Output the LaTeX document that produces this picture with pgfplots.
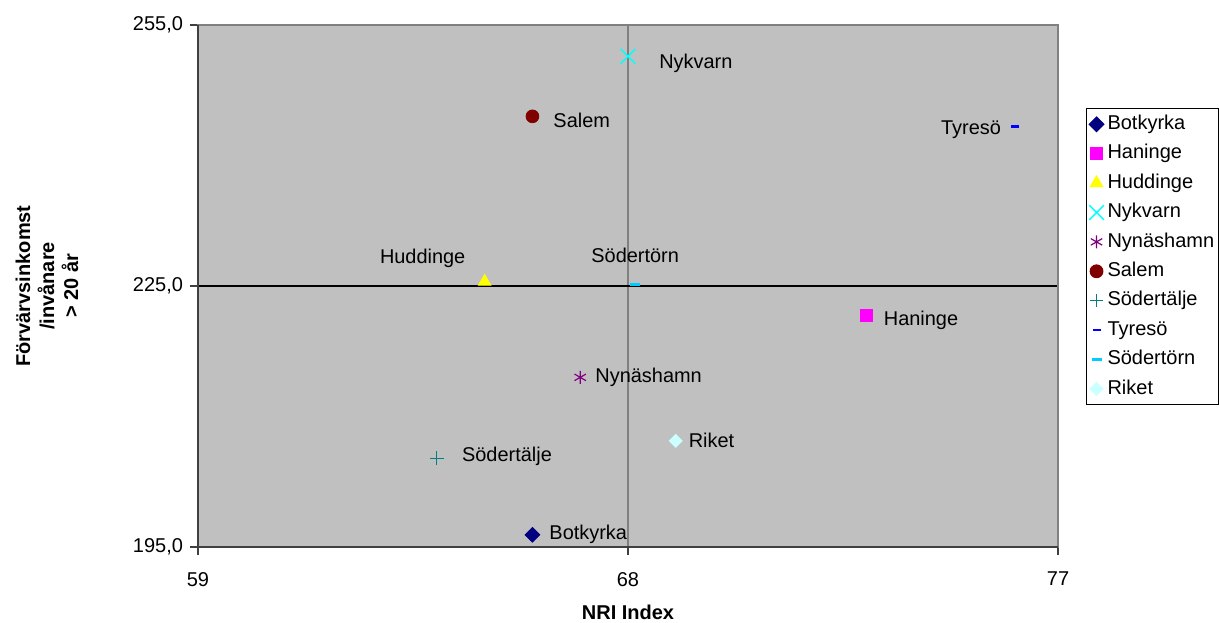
\documentclass[border=0pt]{standalone}
\usepackage{pgfplots}
\pgfplotsset{compat=1.18}
\usepackage{fontspec}
\setmainfont{Liberation Sans}

\definecolor{plotbg}{HTML}{C0C0C0}
\definecolor{darkline}{HTML}{404040}
\definecolor{midline}{HTML}{808080}
\definecolor{cNavy}{HTML}{000080}
\definecolor{cMag}{HTML}{FF00FF}
\definecolor{cYel}{HTML}{FFFF00}
\definecolor{cCyan}{HTML}{00FFFF}
\definecolor{cPurp}{HTML}{800080}
\definecolor{cMaroon}{HTML}{800000}
\definecolor{cTeal}{HTML}{008080}
\definecolor{cBlue}{HTML}{0000FF}
\definecolor{cSky}{HTML}{00CCFF}
\definecolor{cPale}{HTML}{CCFFFF}

\newcommand{\fs}{\fontsize{10bp}{12bp}\selectfont}

\begin{document}
\begin{tikzpicture}
\useasboundingbox (-99bp,-38bp) rectangle (510.5bp,273.5bp);
\begin{axis}[
    scale only axis,
    width=430bp, height=261bp,
    xmin=59, xmax=77, ymin=195, ymax=255,
    xtick={59,68,77}, ytick={195,225,255},
    xtick pos=bottom, ytick pos=left,
    tick align=outside, major tick length=4bp,
    tick style={darkline, line width=0.6bp},
    axis background/.style={fill=plotbg},
    axis line style={midline, line width=0.6bp},
    grid=major,
    x grid style={midline, line width=0.8bp},
    y grid style={black, line width=0.6bp},
    /pgf/number format/assume math mode=true,
    yticklabel style={/pgf/number format/.cd, fixed, fixed zerofill, precision=1, use comma},
    xticklabel style={yshift=-5bp, /pgf/number format/.cd, fixed, precision=0},
    ticklabel style={font=\fs},
    xlabel={\textbf{NRI Index}},
    ylabel={\textbf{Förvärvsinkomst}\\\textbf{/invånare}\\\textbf{> 20 år}},
    xlabel style={font=\fs, at={(axis description cs:0.5,-0.126)}, anchor=center},
    ylabel style={font=\fs, align=center, at={(axis description cs:-0.1756,0.5)}, anchor=center},
    clip=false,
    legend cell align=left,
    legend image code/.code={%
        \path[draw=none, fill=none, mark=none] (0bp,-2bp) rectangle (8.5bp,2bp);
        \draw[#1] plot coordinates {(4bp,0bp)};},
    legend style={at={(rel axis cs:1.0326,0.841)}, anchor=north west,
        draw=black, line width=0.5bp, fill=white, font=\fs,
        inner xsep=1bp, inner ysep=2bp, row sep=2.9bp,
        nodes={inner sep=1bp, text height=7.5bp, text depth=2.3bp}},
    every node/.append style={font=\fs},
    diam/.style={mark=square*, mark options={rotate=45}},
]
\addplot[only marks, diam, mark size=2.6bp, color=cNavy] coordinates {(66.0,196.4)}
    node[text=black, anchor=west, xshift=5bp] {Botkyrka};
\addplot[only marks, mark=square*, mark size=3bp, color=cMag] coordinates {(73.0,221.6)}
    node[text=black, anchor=west, xshift=5bp, yshift=-2.5bp] {Haninge};
\addplot[only marks, mark=triangle*, mark size=3.6bp, color=cYel] coordinates {(65.0,225.5)}
    node[text=black, xshift=-31bp, yshift=11.5bp] {Huddinge};
\addplot[only marks, mark=x, mark size=5.2bp, line width=0.7bp, color=cCyan] coordinates {(68.0,251.4)}
    node[text=black, anchor=west, xshift=12bp, yshift=-3.5bp] {Nykvarn};
\addplot[only marks, mark=asterisk, mark size=3.3bp, line width=0.6bp, color=cPurp] coordinates {(67.0,214.5)}
    node[text=black, anchor=west, xshift=4bp] {Nynäshamn};
\addplot[only marks, mark=*, mark size=3.2bp, color=cMaroon] coordinates {(66.0,244.5)}
    node[text=black, anchor=west, xshift=7bp, yshift=-2bp] {Salem};
\addplot[only marks, mark=+, mark size=3.4bp, line width=0.6bp, color=cTeal] coordinates {(64.0,205.2)}
    node[text=black, anchor=west, xshift=9bp, yshift=1bp] {Södertälje};
\addplot[only marks, mark=-, mark size=2bp, line width=1.4bp, color=cBlue] coordinates {(76.1,243.3)}
    node[text=black, anchor=east, xshift=-3bp, yshift=-1.5bp] {Tyresö};
\addplot[only marks, mark=-, mark size=2.5bp, line width=1.4bp, color=cSky] coordinates {(68.15,225.2)}
    node[text=black, yshift=14.5bp] {Södertörn};
\addplot[only marks, diam, mark size=2.3bp, color=cPale] coordinates {(69.0,207.2)}
    node[text=black, anchor=west, xshift=3bp] {Riket};
\legend{Botkyrka, Haninge, Huddinge, Nykvarn, Nynäshamn, Salem, Södertälje, Tyresö, Södertörn, Riket}
\draw[darkline, line width=0.8bp] (rel axis cs:0,1) -- (rel axis cs:0,0) -- (rel axis cs:1,0);
\end{axis}
\end{tikzpicture}
\end{document}
